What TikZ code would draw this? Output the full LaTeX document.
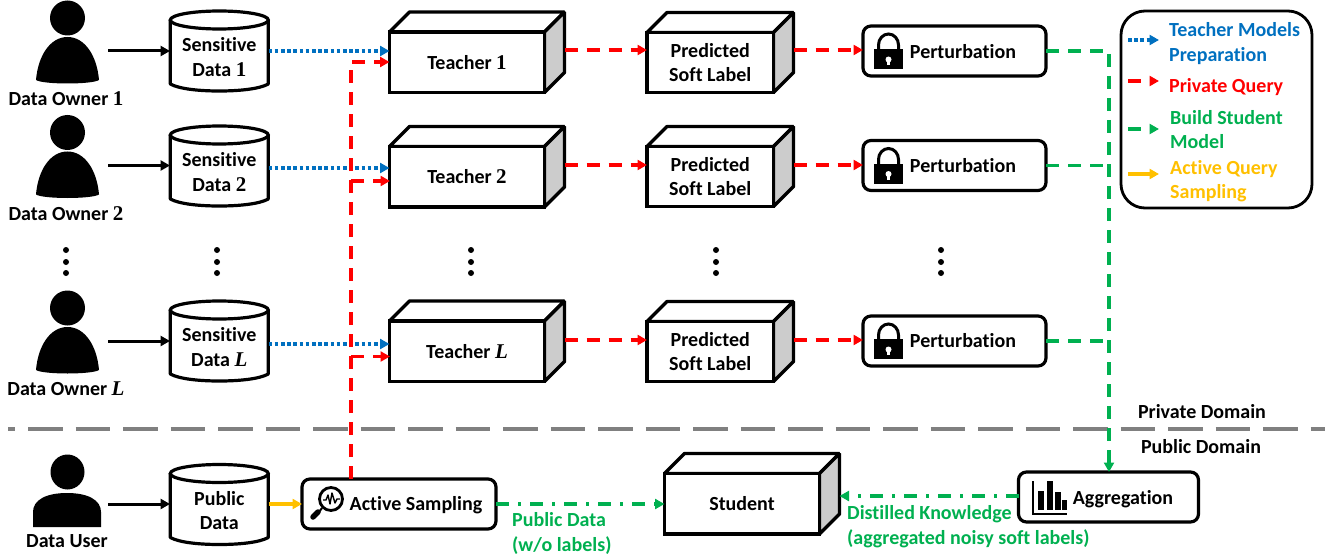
\documentclass[tikz,border=0pt]{standalone}
\usepackage{fontspec}
\setmainfont{Carlito}[BoldFont={Carlito Bold},Ligatures=CommonOff]
\newfontfamily\mathish{Liberation Serif}
\usetikzlibrary{arrows.meta,calc}
\definecolor{cblue}{HTML}{0070C0}
\definecolor{cred}{HTML}{FF0000}
\definecolor{cgreen}{HTML}{00B050}
\definecolor{corange}{HTML}{FFC000}
\definecolor{cgray}{HTML}{808080}
\definecolor{cside}{HTML}{CCCCCC}
\newcommand\dnum[1]{{\mathish\bfseries\fontsize{21}{24}\selectfont #1}}
\newcommand\dL{{\mathish\bfseries\itshape\fontsize{21}{24}\selectfont L}}
\tikzset{
  txt/.style={font=\fontsize{20}{24.5}\selectfont\bfseries,align=center,inner sep=0pt,text=black},
  lbl/.style={txt,anchor=west,align=left},
  frontbox/.style={draw=black,line width=3.4pt,fill=white,inner sep=0pt,outer sep=0pt,align=center,font=\fontsize{20}{24.5}\selectfont\bfseries},
  iconbox/.style={frontbox,rounded corners=8pt,line width=3.2pt},
  ghost/.style={inner sep=0pt,outer sep=0pt,minimum width=98.5pt,minimum height=80pt},
  tipsm/.style={-{Triangle[length=9.5pt,width=10pt]}},
  flowblack/.style={line width=3pt,black,tipsm},
  flowblue/.style={line width=3.4pt,cblue,tipsm,dash pattern=on 3.6pt off 2.6pt},
  flowred/.style={line width=3.4pt,cred,tipsm,dash pattern=on 13pt off 9pt},
  flowgreen/.style={line width=3.4pt,cgreen,dash pattern=on 13pt off 9pt},
  flowgreentip/.style={flowgreen,tipsm},
  flowdot/.style={line width=3.4pt,cgreen,tipsm,dash pattern=on 13pt off 9pt on 3pt off 9pt},
  floworange/.style={line width=3.4pt,corange,tipsm},
  dotmark/.style={circle,fill=black,inner sep=0pt,minimum size=6pt},
}
\newcommand\person[3]{%
  \fill[black] (67.5,{18+#2}) ellipse [x radius=17.5,y radius=17.5];
  \fill[black] (36,{80+#2}) .. controls (38,{56+#2}) and (50,{37+#2}) .. (67.5,{37+#2})
     .. controls (85,{37+#2}) and (97,{56+#2}) .. (99,{80+#2})
     .. controls (95,{82.5+#2}) and (80,{83.5+#2}) .. (67.5,{83.5+#2})
     .. controls (55,{83.5+#2}) and (40,{82.5+#2}) .. (36,{80+#2}) -- cycle;
  \coordinate (#1o) at (108,{51+#2});
  \node[txt] (#1l) at (66,{99+#2}) {#3};
}
\newcommand\cyl[4]{%
  \draw[line width=3.2pt,fill=white,line join=round]
     ({#2-49},{#3+9}) -- ({#2-49},{#3+73})
     .. controls ({#2-40},{#3+78}) and ({#2-20},{#3+80}) .. (#2,{#3+80})
     .. controls ({#2+20},{#3+80}) and ({#2+40},{#3+78}) .. ({#2+49},{#3+73})
     -- ({#2+49},{#3+9});
  \draw[line width=3.2pt,fill=white] (#2,{#3+9}) ellipse [x radius=49,y radius=9];
  \node[ghost] (#1) at (#2,{#3+40}) {};
  \node[txt] (#1t) at (#2,{#3+46}) {#4};
}
\newcommand\cuboid[6]{%
  \draw[line width=3.4pt,fill=white,line join=bevel] (#2,#3) -- ({#2+20},{#3-20}) -- ({#2+#4+20},{#3-20}) -- ({#2+#4},#3) -- cycle;
  \draw[line width=3.4pt,fill=cside,line join=bevel] ({#2+#4},#3) -- ({#2+#4+20},{#3-20}) -- ({#2+#4+20},{#3+#5-20}) -- ({#2+#4},{#3+#5}) -- cycle;
  \node[frontbox,minimum width=#4pt,minimum height=#5pt,anchor=north west] (#1) at (#2,#3) {#6};
}
\newcommand\lockicon[2]{%
  \draw[line width=3pt,black] ({#1+15.5},{#2+26}) -- ({#1+15.5},{#2+20}) arc [start angle=180,end angle=0,x radius=10,y radius=-11] -- ({#1+35.5},{#2+26});
  \fill[black] ({#1+11},{#2+24}) rectangle ({#1+40},{#2+44});
  \fill[white] ({#1+25.5},{#2+34.5}) circle (3pt);
  \fill[white] ({#1+24.3},{#2+35}) rectangle ({#1+26.7},{#2+40});
}
\begin{document}
\begin{tikzpicture}[x=1pt,y=-1pt]
\useasboundingbox (0,0) rectangle (1325,559);

\coordinate (divl) at (8,429);
\coordinate (divr) at (1325,429);
\draw[cgray,line width=4pt,dash pattern=on 34.5pt off 13pt,dash phase=27.5pt] (divl) -- (divr);
\node[txt] (privd) at (1202,412) {Private Domain};
\node[txt] (pubd) at (1201,447) {Public Domain};

\person{o1}{0}{Data Owner \dnum{1}}
\person{o2}{114.5}{Data Owner \dnum{2}}
\person{oL}{290}{Data Owner \dL}

\cyl{s1}{219.3}{11}{Sensitive\\Data \dnum{1}}
\cyl{s2}{219.3}{126}{Sensitive\\Data \dnum{2}}
\cyl{sL}{219.3}{301}{Sensitive\\Data \dL}

\cuboid{t1}{389.5}{32}{155}{60.5}{Teacher \dnum{1}}
\cuboid{t2}{389.5}{146.5}{155}{60.5}{Teacher \dnum{2}}
\cuboid{tL}{389.5}{321}{155}{60.5}{Teacher \dL}

\cuboid{y1}{647}{32.5}{126.5}{60}{Predicted\\Soft Label}
\cuboid{y2}{647}{146.5}{126.5}{60}{Predicted\\Soft Label}
\cuboid{yL}{647}{321.5}{126.5}{60}{Predicted\\Soft Label}

\node[iconbox,minimum width=183pt,minimum height=50pt,anchor=north west] (p1) at (863,26) {};
\node[iconbox,minimum width=183pt,minimum height=50pt,anchor=north west] (p2) at (863,140.5) {};
\node[iconbox,minimum width=183pt,minimum height=50pt,anchor=north west] (pL) at (863,316) {};
\lockicon{863}{25}\lockicon{863}{139.5}\lockicon{863}{315}
\node[txt] (p1t) at (963,52) {Perturbation};
\node[txt] (p2t) at (963,166) {Perturbation};
\node[txt] (pLt) at (963,341) {Perturbation};

\foreach \nm/\xx in {a/66,b/217,c/471,d/716,e/941}{
  \node[dotmark] (\nm1) at (\xx,250) {};
  \node[dotmark] (\nm2) at (\xx,262) {};
  \node[dotmark] (\nm3) at (\xx,273) {};
}

\draw[flowblack] (o1o) -- (o1o -| s1.west);
\draw[flowblack] (o2o) -- (o2o -| s2.west);
\draw[flowblack] (oLo) -- (oLo -| sL.west);

\coordinate (b1) at (268.5,51);
\coordinate (b2) at (268.5,168);
\coordinate (bL) at (268.5,344);
\draw[flowblue] (b1) -- (b1 -| t1.west);
\draw[flowblue] (b2) -- (b2 -| t2.west);
\draw[flowblue] (bL) -- (bL -| tL.west);

\fill[black] (67.5,472) ellipse [x radius=17,y radius=17.5];
\fill[black] (33,527) -- (33,512) .. controls (33,500) and (46,493) .. (67,493) .. controls (88,493) and (101,500) .. (101,512) -- (101,527) -- cycle;
\coordinate (uo) at (108,504);
\node[txt] (ul) at (67,541) {Data User};
\cyl{sp}{219.3}{464.5}{Public\\Data}
\node[iconbox,minimum width=194pt,minimum height=50pt,anchor=north west] (as) at (302,479) {};
\node[txt] (ast) at (416,505) {Active Sampling};
\cuboid{st}{664.5}{473.5}{155}{60.5}{Student}
\node[iconbox,minimum width=180pt,minimum height=50pt,anchor=north west] (ag) at (1018.5,472) {};
\node[txt] (agt) at (1123,499) {Aggregation};

\draw[line width=2.8pt,black,fill=white] (331,499) circle (11.5pt);
\draw[line width=5.5pt,black,line cap=round] (313,517) -- (318,512);
\draw[line width=2pt,black] (319,512) -- (322,508);
\draw[line width=1.4pt,black,line join=round] (323,500) -- (326,500) -- (328,495) -- (330,504) -- (332,493) -- (335,503) -- (337,499) -- (340,499);

\draw[line width=2.4pt,black] (1033,481) -- (1033,514) -- (1067,514);
\fill[black] (1038,491) rectangle (1044,510);
\fill[black] (1046.5,481) rectangle (1052.5,510);
\fill[black] (1054.5,492) rectangle (1060.5,510);
\fill[black] (1061.5,500) rectangle (1067,510);

\draw[flowblack] (uo) -- (uo -| sp.west);

\coordinate (redx) at (351,400);
\coordinate (r1) at (389.5,62);
\coordinate (r2) at (390,181);
\coordinate (rL) at (390,356.5);
\draw[flowred] (redx |- as.north) -- (redx |- r1) -- (r1);
\draw[flowred] (redx |- r2) -- (r2);
\draw[flowred] (redx |- rL) -- (rL);

\coordinate (tq1) at (564.5,50);
\coordinate (tq2) at (564.5,165);
\coordinate (tqL) at (564.5,340);
\draw[flowred] (tq1) -- (tq1 -| y1.west);
\draw[flowred] (tq2) -- (tq2 -| y2.west);
\draw[flowred] (tqL) -- (tqL -| yL.west);
\coordinate (yq1) at (793.5,50);
\coordinate (yq2) at (793.5,165);
\coordinate (yqL) at (793.5,340);
\draw[flowred] (yq1) -- (yq1 -| p1.west);
\draw[flowred] (yq2) -- (yq2 -| p2.west);
\draw[flowred] (yqL) -- (yqL -| pL.west);

\coordinate (grx) at (1109,300);
\draw[flowgreentip] (p1.east) -- (grx |- p1.east) -- (grx |- ag.north);
\draw[flowgreen] (p2.east) -- (grx |- p2.east);
\draw[flowgreen] (pL.east) -- (grx |- pL.east);

\draw[floworange] (sp.east |- as.west) -- (as.west);
\draw[flowdot] (as.east) -- (as.east -| st.west);
\coordinate (sts) at (839.5,496);
\draw[flowdot] (sts -| ag.west) -- (sts);
\node[txt,text=cgreen,anchor=west,align=left] (pdl) at (512,533.5) {Public Data\\(w/o labels)};
\node[txt,text=cgreen,anchor=west,align=left] (dkl) at (847,526.5) {Distilled Knowledge\\(aggregated noisy soft labels)};

\node[draw=black,line width=2.8pt,fill=white,rounded corners=24pt,minimum width=191pt,minimum height=197pt,inner sep=0pt,outer sep=0pt,anchor=north west] (leg) at (1121,11) {};
\coordinate (l1a) at (1128,40); \coordinate (l1b) at (1159,40);
\coordinate (l2a) at (1128,81); \coordinate (l2b) at (1159,81);
\coordinate (l3a) at (1128,129); \coordinate (l3b) at (1159,129);
\coordinate (l4a) at (1128,174); \coordinate (l4b) at (1159,174);
\draw[flowblue] (l1a) -- (l1b);
\draw[flowred] (l2a) -- (l2b);
\draw[flowgreentip] (l3a) -- (l3b);
\draw[floworange] (l4a) -- (l4b);
\node[lbl,text=cblue] (l1t) at (1169,43.5) {Teacher Models\\Preparation};
\node[lbl,text=cred] (l2t) at (1169,87) {Private Query};
\node[lbl,text=cgreen] (l3t) at (1170,129.5) {Build Student\\Model};
\node[lbl,text=corange] (l4t) at (1170,181) {Active Query\\Sampling};
\end{tikzpicture}
\end{document}
